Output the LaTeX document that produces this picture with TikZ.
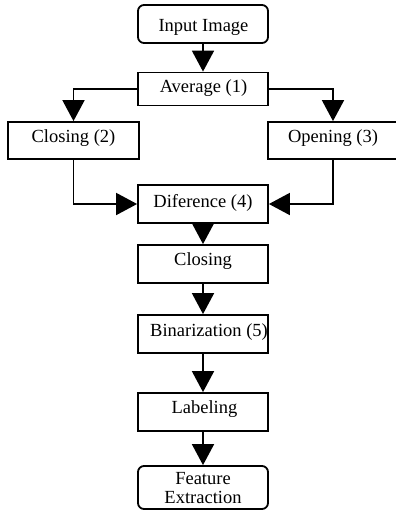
\documentclass[tikz,border=0pt]{standalone}
\usepackage{fontspec}
\setmainfont{Liberation Serif}
\usetikzlibrary{arrows.meta}
\begin{document}
\begin{tikzpicture}[x=1pt,y=-1pt,
  box/.style={draw=black,line width=1.8pt,rectangle,minimum width=130pt,minimum height=38pt,inner sep=0pt,fill=white},
  rbox/.style={box,rounded corners=6pt},
  lbl/.style={anchor=base,inner sep=0pt,font=\fontsize{18.5}{21}\selectfont},
  arr/.style={line width=1.8pt,-{Triangle[length=21pt,width=22pt]}}]
\useasboundingbox[fill=white] (0,0) rectangle (396,512);
% boxes
\node[rbox,minimum height=38pt] (inp) at (203,24) {};
\node[box,minimum height=33pt] (avg) at (203,89) {};
\node[box,minimum width=131pt,minimum height=37pt] (c2) at (73.5,140.5) {};
\node[box,minimum height=37pt] (op) at (333,140.5) {};
\node[box] (dif) at (203,204) {};
\node[box] (cls) at (203,264) {};
\node[box] (bin) at (203,334) {};
\node[box] (lab) at (203,412) {};
\node[rbox,minimum height=43pt] (fe) at (203,487.5) {};
% labels
\node[lbl] (inpT) at (203.5,31) {Input Image};
\node[lbl] (avgT) at (203.5,92) {Average (1)};
\node[lbl] (c2T) at (73.5,142) {Closing (2)};
\node[lbl] (opT) at (333,142) {Opening (3)};
\node[lbl] (difT) at (203,207) {Diference (4)};
\node[lbl] (clsT) at (203,265) {Closing};
\node[lbl] (binT) at (209,336) {Binarization (5)};
\node[lbl] (labT) at (204.5,413) {Labeling};
\node[lbl] (fe1T) at (203,484) {Feature};
\node[lbl] (fe2T) at (203,503.5) {Extraction};
% connectors
\draw[arr] (inp.south) -- (avg.north);
\draw[arr] (avg.west) -| (c2.north);
\draw[arr] (avg.east) -| (op.north);
\draw[arr] (c2.south) |- (dif.west);
\draw[arr] (op.south) |- (dif.east);
\draw[arr] (dif.south) -- (cls.north);
\draw[arr] (cls.south) -- (bin.north);
\draw[arr] (bin.south) -- (lab.north);
\draw[arr] (lab.south) -- (fe.north);
\end{tikzpicture}
\end{document}
